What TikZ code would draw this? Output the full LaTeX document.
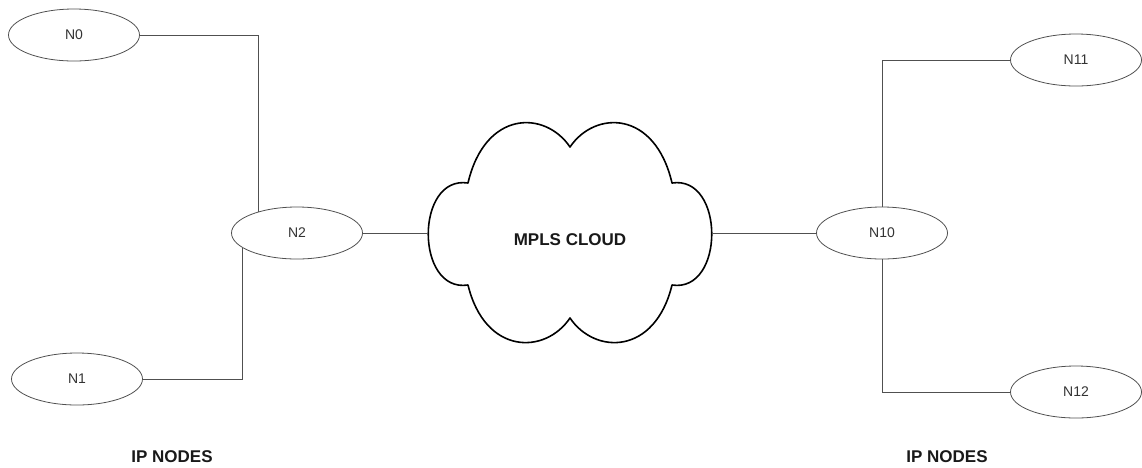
\documentclass[tikz,border=0pt]{standalone}
\usepackage{fontspec}
\setmainfont{Liberation Sans}
\usetikzlibrary{shapes.geometric}
\definecolor{linegray}{HTML}{505050}

\begin{document}
\begin{tikzpicture}[x=1pt, y=-1pt,
  ipnode/.style={ellipse, draw=linegray, line width=0.8pt, minimum width=131pt, minimum height=52pt, inner sep=0pt, font=\fontsize{14}{16}\selectfont, text=black!80},
  link/.style={draw=linegray, line width=0.9pt},
  cloudarea/.style={minimum width=285pt, minimum height=218pt, inner sep=0pt, font=\fontsize{17}{20}\selectfont\bfseries, text=black!90},
  grouplabel/.style={font=\fontsize{17}{20}\selectfont\bfseries, text=black!90}]
  \useasboundingbox (0,0) rectangle (1142,467);
  % left side
  \node[ipnode] (N0) at (74,35) {N0};
  \node[ipnode] (N1) at (77,379) {N1};
  \node[ipnode] (N2) at (297,233) {N2};
  % right side
  \node[ipnode] (N10) at (882,233) {N10};
  \node[ipnode] (N11) at (1076,60) {N11};
  \node[ipnode] (N12) at (1076,392) {N12};
  % the cloud
  \draw[black, line width=1.6pt, line join=round]
    (570,147) .. controls (595,110) and (655,110) .. (672,183)
    .. controls (725,175) and (725,293) .. (672,285)
    .. controls (655,355) and (595,355) .. (570,318)
    .. controls (545,355) and (485,355) .. (468,285)
    .. controls (415,293) and (415,175) .. (468,183)
    .. controls (485,110) and (545,110) .. (570,147) -- cycle;
  \node[cloudarea] (cloud) at (570,240) {MPLS CLOUD};
  % links
  \draw[link] (N0.east) -| (N2.151);
  \draw[link] (N1.east) -| (N2.195);
  \draw[link] (N2.east) -- (N2.east -| cloud.west);
  \draw[link] (N10.west -| cloud.east) -- (N10.west);
  \draw[link] (N10.north) |- (N11.west);
  \draw[link] (N10.south) |- (N12.west);
  \node[grouplabel] (ipleft) at (172,457) {IP NODES};
  \node[grouplabel] (ipright) at (947,457) {IP NODES};
\end{tikzpicture}
\end{document}
